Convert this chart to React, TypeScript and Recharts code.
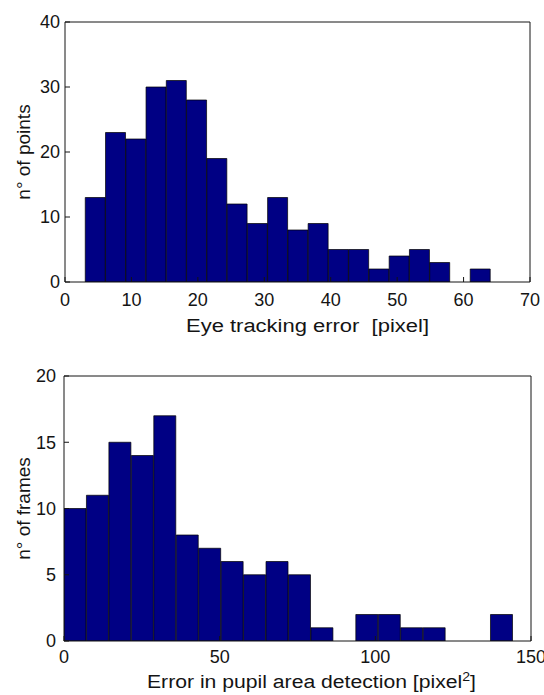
import React from "react";
import { BarChart, Bar, XAxis, YAxis } from "recharts";

// eye tracking error histogram (bin centres in pixel, counts)
const trackingBins = [
  4.575, 7.625, 10.675, 13.725, 16.775, 19.825, 22.875, 25.925, 28.975, 32.025,
  35.075, 38.125, 41.175, 44.225, 47.275, 50.325, 53.375, 56.425, 59.475, 62.525,
];
const trackingCounts = [13, 23, 22, 30, 31, 28, 19, 12, 9, 13, 8, 9, 5, 5, 2, 4, 5, 3, 0, 2];
const trackingXTicks = [0, 10, 20, 30, 40, 50, 60, 70];
const trackingYTicks = [0, 10, 20, 30, 40];

// pupil area error histogram (bin centres in pixel^2, counts)
const pupilBins = [
  3.605, 10.815, 18.025, 25.235, 32.445, 39.655, 46.865, 54.075, 61.285, 68.495,
  75.705, 82.915, 90.125, 97.335, 104.545, 111.755, 118.965, 126.175, 133.385, 140.595,
];
const pupilCounts = [10, 11, 15, 14, 17, 8, 7, 6, 5, 6, 5, 1, 0, 2, 2, 1, 1, 0, 0, 2];
const pupilXTicks = [0, 50, 100, 150];
const pupilYTicks = [0, 5, 10, 15, 20];

const FONT = "'Liberation Sans', Arial, Helvetica, sans-serif";
const INK = "#141414";
const BAR_FILL = "#000084";

function BottomTick({ x, y, payload, baseline }: any) {
  return (
    <g>
      <line x1={x} y1={y} x2={x} y2={y - 5} stroke={INK} />
      <text x={x} y={y + baseline} textAnchor="middle" fontSize={18} fontFamily={FONT} fill={INK}>
        {payload.value}
      </text>
    </g>
  );
}

function LeftTick({ x, y, payload, gap }: any) {
  return (
    <g>
      <line x1={x} y1={y} x2={x + 5} y2={y} stroke={INK} />
      <text x={x - gap} y={y} dy="0.36em" textAnchor="end" fontSize={18} fontFamily={FONT} fill={INK}>
        {payload.value}
      </text>
    </g>
  );
}

function XTitle({ viewBox, text, sup, dx, baseline, length }: any) {
  const cx = viewBox.x + viewBox.width / 2 + dx;
  return (
    <text
      x={cx}
      y={viewBox.y + baseline}
      textAnchor="middle"
      fontSize={18}
      fontFamily={FONT}
      fill={INK}
      textLength={length}
      lengthAdjust="spacingAndGlyphs"
      style={{ whiteSpace: "pre" }}
    >
      {text}
      {sup ? (
        <>
          <tspan dy={-7} fontSize={12}>{sup}</tspan>
          <tspan dy={7}>]</tspan>
        </>
      ) : null}
    </text>
  );
}

function YTitle({ viewBox, text, cx }: any) {
  const cy = viewBox.y + viewBox.height / 2;
  return (
    <text
      x={cx}
      y={cy}
      transform={`rotate(-90, ${cx}, ${cy})`}
      textAnchor="middle"
      fontSize={19}
      fontFamily={FONT}
      fill={INK}
    >
      {text}
    </text>
  );
}

type HistProps = {
  bins: number[];
  counts: number[];
  xTicks: number[];
  yTicks: number[];
  width: number;
  height: number;
  margin: { top: number; right: number; bottom: number; left: number };
  yAxisWidth: number;
  xAxisHeight: number;
  tickBaseline: number;
  yTickGap: number;
  xTitle: React.ReactElement;
  yTitle: string;
};

function Histogram(p: HistProps) {
  const data = p.bins.map((x, i) => ({ x, count: p.counts[i] }));
  const xDomain = [p.xTicks[0], p.xTicks[p.xTicks.length - 1]];
  const yDomain = [p.yTicks[0], p.yTicks[p.yTicks.length - 1]];
  return (
    <BarChart
      width={p.width}
      height={p.height}
      data={data}
      margin={p.margin}
      barCategoryGap={0}
      barGap={0}
    >
      <XAxis
        dataKey="x"
        type="number"
        domain={xDomain}
        ticks={p.xTicks}
        interval={0}
        allowDataOverflow
        tickSize={0}
        tickMargin={0}
        tickLine={false}
        axisLine={{ stroke: INK }}
        height={p.xAxisHeight}
        tick={<BottomTick baseline={p.tickBaseline} />}
        label={p.xTitle}
      />
      <XAxis
        xAxisId="top"
        orientation="top"
        mirror
        type="number"
        domain={xDomain}
        ticks={p.xTicks}
        interval={0}
        allowDataOverflow
        tick={false}
        tickSize={5}
        axisLine={{ stroke: INK }}
        tickLine={{ stroke: INK }}
      />
      <YAxis
        type="number"
        domain={yDomain}
        ticks={p.yTicks}
        interval={0}
        allowDataOverflow
        width={p.yAxisWidth}
        tickSize={0}
        tickMargin={0}
        tickLine={false}
        axisLine={{ stroke: INK }}
        tick={<LeftTick gap={p.yTickGap} />}
        label={<YTitle text={p.yTitle} cx={30} />}
      />
      <YAxis
        yAxisId="right"
        orientation="right"
        mirror
        type="number"
        domain={yDomain}
        ticks={p.yTicks}
        interval={0}
        allowDataOverflow
        tick={false}
        tickSize={5}
        axisLine={{ stroke: INK }}
        tickLine={{ stroke: INK }}
      />
      <Bar
        dataKey="count"
        fill={BAR_FILL}
        stroke="#000000"
        strokeWidth={0.7}
        isAnimationActive={false}
      />
    </BarChart>
  );
}

export default function App() {
  return (
    <div style={{ position: "absolute", left: 0, top: 0, width: 544, height: 695, background: "#fff" }}>
      <Histogram
        bins={trackingBins}
        counts={trackingCounts}
        xTicks={trackingXTicks}
        yTicks={trackingYTicks}
        width={544}
        height={340}
        margin={{ top: 22, right: 14, bottom: 0, left: 0 }}
        yAxisWidth={65}
        xAxisHeight={58}
        tickBaseline={24}
        yTickGap={5}
        xTitle={<XTitle text="Eye tracking error  [pixel]" dx={10} baseline={50} length={243} />}
        yTitle="n° of points"
      />
      <Histogram
        bins={pupilBins}
        counts={pupilCounts}
        xTicks={pupilXTicks}
        yTicks={pupilYTicks}
        width={544}
        height={355}
        margin={{ top: 36, right: 13, bottom: 0, left: 0 }}
        yAxisWidth={64}
        xAxisHeight={54}
        tickBaseline={22}
        yTickGap={8}
        xTitle={
          <XTitle
            text="Error in pupil area detection [pixel"
            sup="2"
            dx={14}
            baseline={47}
            length={329}
          />
        }
        yTitle="n° of frames"
      />
    </div>
  );
}
